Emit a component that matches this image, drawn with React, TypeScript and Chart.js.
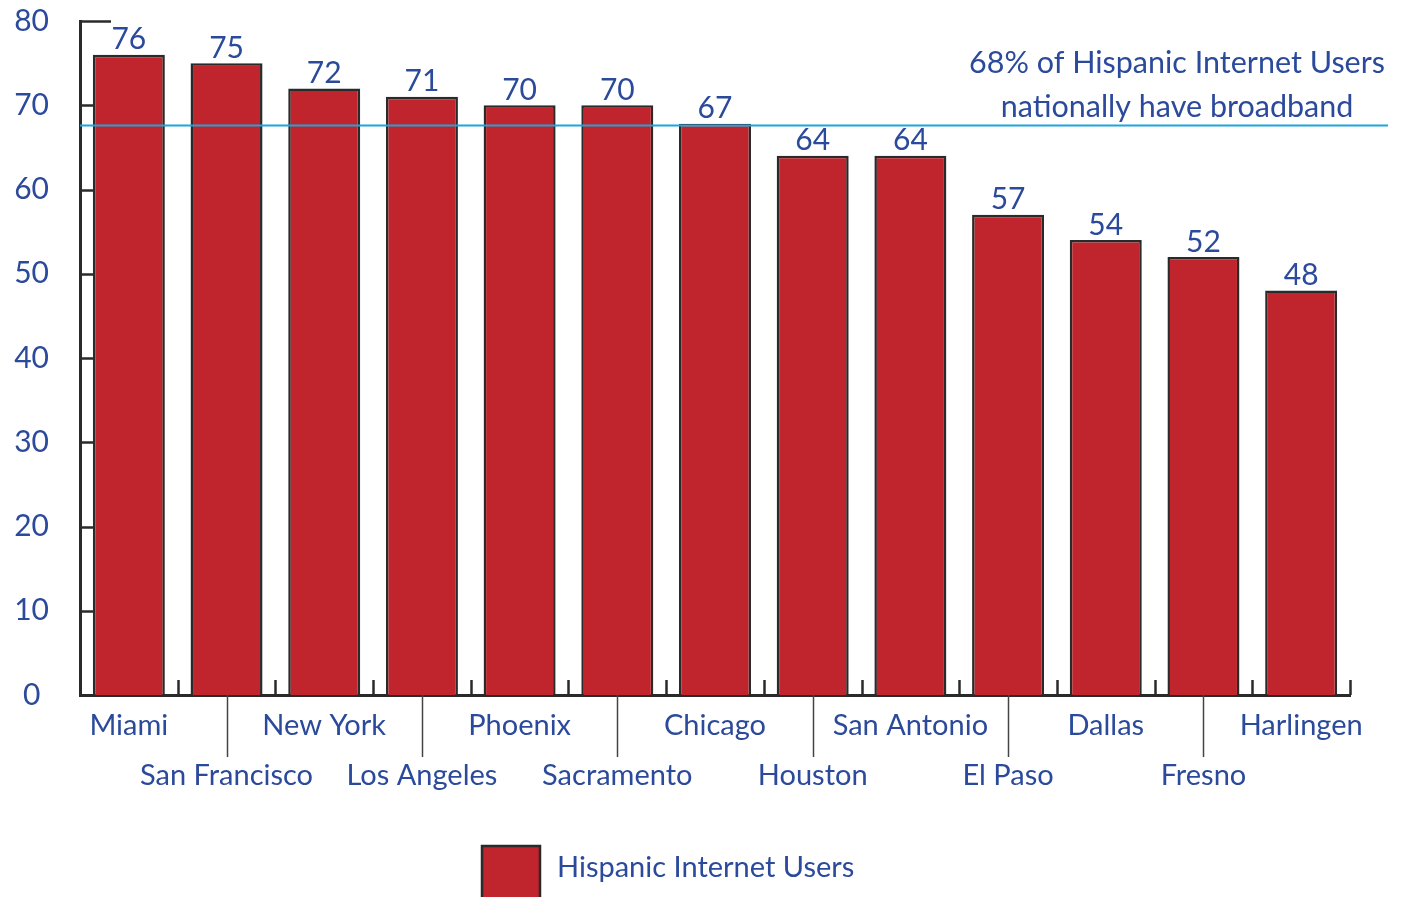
import React, { useEffect, useRef } from 'react';
import { Chart, registerables } from 'chart.js';

Chart.register(...registerables);

const CITIES = ['Miami', 'San Francisco', 'New York', 'Los Angeles', 'Phoenix', 'Sacramento', 'Chicago', 'Houston', 'San Antonio', 'El Paso', 'Dallas', 'Fresno', 'Harlingen'];
const BAR_VALUES = [76, 75, 72, 71, 70, 70, 67.8, 64, 64, 57, 54, 52, 48];
const VALUE_LABELS = ['76', '75', '72', '71', '70', '70', '67', '64', '64', '57', '54', '52', '48'];
const Y_TICKS = [0, 10, 20, 30, 40, 50, 60, 70, 80];
const NATIONAL_BROADBAND = 67.6;
const NOTE_LINES = ['68% of Hispanic Internet Users', 'nationally have broadband'];
const SERIES_NAME = 'Hispanic Internet Users';

const FONT = 'Lato, "Noto Sans", sans-serif';
const WEIGHT = '400';
const TEXT = '#2B4A9B';
const BAR = '#C0252D';
const EDGE = '#2a2a2a';
const REF_LINE = '#1BA6E0';
const W = 1405;
const H = 897;

const overlay = {
  id: 'overlay',
  afterDatasetsDraw(chart: any) {
    const { ctx, chartArea: ca, scales } = chart;
    const x = scales.x;
    const y = scales.y;
    ctx.save();
    // y ticks (inside)
    ctx.strokeStyle = EDGE;
    ctx.lineWidth = 2.5;
    Y_TICKS.forEach((v) => {
      if (v === 0) return;
      const py = Math.round(y.getPixelForValue(v)) + 0.5;
      ctx.beginPath();
      ctx.moveTo(ca.left, py);
      ctx.lineTo(ca.left + (v === Y_TICKS[Y_TICKS.length - 1] ? 31 : 13), py);
      ctx.stroke();
    });
    // x boundary ticks (inside)
    const n = CITIES.length;
    for (let i = 1; i <= n; i++) {
      const px = i < n ? (x.getPixelForValue(i - 1) + x.getPixelForValue(i)) / 2 : ca.right;
      ctx.beginPath();
      ctx.moveTo(Math.round(px) + 0.5, ca.bottom);
      ctx.lineTo(Math.round(px) + 0.5, ca.bottom - 15);
      ctx.stroke();
    }
    // connectors for lower-row labels
    ctx.strokeStyle = '#444';
    ctx.lineWidth = 1.5;
    for (let i = 1; i < n; i += 2) {
      const px = Math.round(x.getPixelForValue(i)) + 0.5;
      ctx.beginPath();
      ctx.moveTo(px, ca.bottom);
      ctx.lineTo(px, ca.bottom + 62);
      ctx.stroke();
    }
    // national reference line
    const ry = y.getPixelForValue(NATIONAL_BROADBAND);
    ctx.strokeStyle = REF_LINE;
    ctx.lineWidth = 2;
    ctx.beginPath();
    ctx.moveTo(ca.left, ry);
    ctx.lineTo(chart.width - 17, ry);
    ctx.stroke();
    // value labels
    ctx.fillStyle = TEXT;
    ctx.font = WEIGHT + ' 30px ' + FONT;
    ctx.textAlign = 'center';
    ctx.textBaseline = 'middle';
    const meta = chart.getDatasetMeta(0);
    meta.data.forEach((el: any, i: number) => {
      ctx.fillText(VALUE_LABELS[i], el.x, el.y - 15);
    });
    // note
    ctx.font = WEIGHT + ' 30.5px ' + FONT;
    ctx.fillText(NOTE_LINES[0], chart.width - 228, 63);
    ctx.fillText(NOTE_LINES[1], chart.width - 228, 107);
    // legend
    ctx.fillStyle = BAR;
    ctx.fillRect(481, 845, 60, 54);
    ctx.strokeStyle = EDGE;
    ctx.lineWidth = 2.5;
    ctx.strokeRect(482, 846, 58, 54);
    ctx.fillStyle = TEXT;
    ctx.textAlign = 'left';
    ctx.font = WEIGHT + ' 29px ' + FONT;
    ctx.fillText(SERIES_NAME, 557, 868);
    ctx.restore();
  },
};

export default function App() {
  const ref = useRef<HTMLCanvasElement>(null);
  useEffect(() => {
    if (!ref.current) return;
    const chart = new Chart(ref.current, {
      type: 'bar',
      data: {
        labels: CITIES.map((c, i) => (i % 2 ? ['', c] : c)),
        datasets: [
          {
            label: SERIES_NAME,
            data: BAR_VALUES,
            backgroundColor: BAR,
            borderColor: EDGE,
            borderWidth: 2.5,
            categoryPercentage: 1,
            barPercentage: 0.737,
          },
        ],
      },
      options: {
        responsive: false,
        animation: false,
        layout: { padding: { top: 21, right: 55, bottom: 92, left: 0 } },
        plugins: { legend: { display: false }, tooltip: { enabled: false } },
        scales: {
          x: {
            grid: { display: false, drawTicks: false },
            border: { display: true, color: EDGE, width: 3 },
            ticks: {
              autoSkip: false,
              maxRotation: 0,
              minRotation: 0,
              padding: 6,
              color: TEXT,
              font: { family: FONT, size: 29, weight: WEIGHT, lineHeight: 50 / 29 },
            },
            afterFit: (s: any) => {
              s.height = 110;
              s.paddingLeft = 0;
              s.paddingRight = 0;
            },
          },
          y: {
            min: 0,
            max: 80,
            grid: { display: false, drawTicks: false },
            border: { display: true, color: EDGE, width: 3 },
            ticks: {
              stepSize: 10,
              crossAlign: 'center',
              padding: 31,
              color: TEXT,
              font: { family: FONT, size: 30, weight: WEIGHT, lineHeight: 1 },
            },
            afterFit: (s: any) => {
              s.width = 80;
              s.paddingTop = 0;
              s.paddingBottom = 0;
            },
          },
        },
      },
      plugins: [overlay],
    });
    return () => chart.destroy();
  }, []);
  return (
    <div style={{ position: 'absolute', left: 0, top: 0, width: W, height: H, background: '#fff' }}>
      <canvas ref={ref} width={W} height={H} style={{ display: 'block' }} />
    </div>
  );
}
